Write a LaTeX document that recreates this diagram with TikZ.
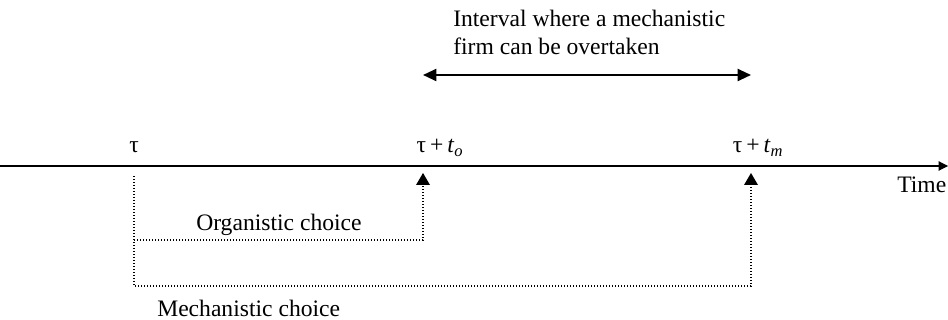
\documentclass[tikz,border=0pt]{standalone}
\usepackage{fontspec}
\setmainfont{Liberation Serif}
\usetikzlibrary{arrows.meta,positioning}

\begin{document}
\begin{tikzpicture}[x=0.75pt,y=-0.75pt, every node/.style={font=\fontsize{17.7}{21}\selectfont,inner sep=0pt},
  dotline/.style={line width=1pt,dash pattern=on 1pt off 1.25pt}]
\useasboundingbox (0,0) rectangle (948,320);
% time axis
\coordinate (start) at (0,166); \coordinate (end) at (948,166);
\draw[line width=0.8pt,-{Triangle[length=7pt,width=7pt]}] (start)--(end);
\node[anchor=base] (tau) at (134,153) {τ};
\node[anchor=base] (to) at (440,153) {τ\,+\,\textit{t}\textsubscript{\textit{o}}};
\node[anchor=base] (tm) at (758,153) {τ\,+\,\textit{t}\textsubscript{\textit{m}}};
\node[anchor=base west] (time) at (897,193) {Time};
% the two choices
\coordinate (from) at (134,176);
\coordinate (orgcorner) at (134,240); \coordinate (orgend) at (423,240); \coordinate (orgtip) at (423,173);
\coordinate (meccorner) at (134,286); \coordinate (mecend) at (751,286); \coordinate (mectip) at (751,173);
\draw[dotline] (from)--(meccorner)--(mecend)--(mectip);
\draw[dotline] (orgcorner)--(orgend)--(orgtip);
\fill (orgtip)--++(-7,12)--++(14,0)--cycle;
\fill (mectip)--++(-7,12)--++(14,0)--cycle;
\node[anchor=base west] (org) at (196,230) {Organistic choice};
\node[anchor=base west] (mec) at (157,316) {Mechanistic choice};
% interval
\coordinate (ivl) at (423,75); \coordinate (ivr) at (751,75);
\draw[line width=1.5pt,{Triangle[length=10pt,width=9pt]}-{Triangle[length=10pt,width=9pt]}] (ivl)--(ivr);
\node[anchor=base west,align=left] (interval) at (453,55) {Interval where a mechanistic\\firm can be overtaken};
\end{tikzpicture}
\end{document}
